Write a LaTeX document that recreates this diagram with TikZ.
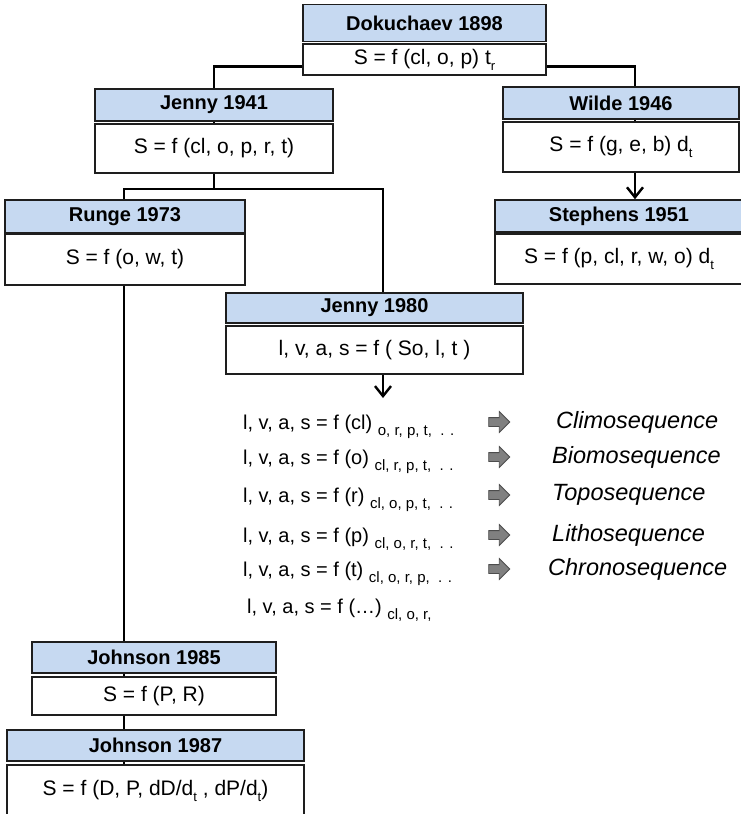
\documentclass[tikz,border=0pt]{standalone}
\usepackage{fontspec}
\setmainfont{Liberation Sans}
\usetikzlibrary{arrows.meta,shapes.arrows}

\definecolor{hdrblue}{HTML}{C6D9F1}
\definecolor{edgecol}{HTML}{1E1E1E}
\definecolor{blockgray}{HTML}{808080}

\newcommand\fsz[1]{\fontsize{#1}{#1}\selectfont}
% lowered small index, e.g. d_t
\newcommand\dsub[1]{\raisebox{-0.28em}{\fsz{13}#1}}
% lowered list of held-constant factors
\newcommand\heldlist[1]{\raisebox{-0.3em}{\fsz{15}#1}}

\pgfdeclarelayer{bg}
\pgfsetlayers{bg,main}

\begin{document}
\begin{tikzpicture}[x=1pt,y=-1pt,
  hdr/.style={draw=edgecol, line width=1.6pt, fill=hdrblue, inner sep=0pt,
              font=\bfseries\fsz{20}},
  bod/.style={draw=edgecol, line width=1.6pt, fill=white, inner sep=0pt,
              font=\fsz{21}},
  link/.style={draw=black, line width=2.6pt},
  arr/.style={draw=black, line width=2.4pt,
              -{Straight Barb[length=10pt,width=16pt]}},
  eqn/.style={anchor=base west, inner sep=0pt, font=\fsz{20}},
  seqlab/.style={anchor=west, inner sep=0pt, font=\itshape\fsz{23.5}},
  blockarrow/.style={single arrow, draw=black!70, line width=0.8pt,
                     fill=blockgray, inner xsep=0pt, inner ysep=4pt,
                     minimum height=21pt, single arrow head extend=6pt,
                     single arrow head indent=0pt},
]
\useasboundingbox (0,0) rectangle (741,814);

% ---- boxes: bold title bar over a formula panel ----
\node[hdr, minimum width=243pt, minimum height=37pt] (dokH) at (424.5,23)  {Dokuchaev 1898};
\node[bod, minimum width=243pt, minimum height=31pt] (dokB) at (424.5,59.5){S = f (cl, o, p) t\dsub{r}};

\node[hdr, minimum width=238pt, minimum height=32pt] (j41H) at (214,105)   {Jenny 1941};
\node[bod, minimum width=238pt, minimum height=49pt] (j41B) at (214,148.5) {S = f (cl, o, p, r, t)};

\node[hdr, minimum width=236pt, minimum height=32pt] (wilH) at (621,103)   {Wilde 1946};
\node[bod, minimum width=236pt, minimum height=50pt] (wilB) at (621,147)   {S = f (g, e, b) d\dsub{t}};

\node[hdr, minimum width=248pt, minimum height=32pt] (steH) at (619,216)   {Stephens 1951};
\node[bod, minimum width=248pt, minimum height=50pt] (steB) at (619,259)   {S = f (p, cl, r, w, o) d\dsub{t}};

\node[hdr, minimum width=240pt, minimum height=33pt] (runH) at (125,216.5) {Runge 1973};
\node[bod, minimum width=240pt, minimum height=51pt] (runB) at (125,259.5) {S = f (o, w, t)};

\node[hdr, minimum width=297pt, minimum height=30pt] (j80H) at (374.5,308) {Jenny 1980};
\node[bod, minimum width=297pt, minimum height=48pt] (j80B) at (374.5,350) {l, v, a, s = f ( So, l, t )};

\node[hdr, minimum width=244pt, minimum height=31pt] (j85H) at (154,657.5) {Johnson 1985};
\node[bod, minimum width=244pt, minimum height=38pt] (j85B) at (154,696)   {S = f (P, R)};

\node[hdr, minimum width=297pt, minimum height=31pt] (j87H) at (155.5,745.5) {Johnson 1987};
\node[bod, minimum width=297pt, minimum height=51pt] (j87B) at (155.5,790.5) {S = f (D, P, dD/d\dsub{t} , dP/d\dsub{t})};

% ---- state-factor sequences ----
\node[eqn] (e1) at (243,429.5) {l, v, a, s = f (cl) \heldlist{o, r, p, t,~~. .}};
\node[eqn] (e2) at (243,464.5) {l, v, a, s = f (o) \heldlist{cl, r, p, t,~~. .}};
\node[eqn] (e3) at (243,502.5) {l, v, a, s = f (r) \heldlist{cl, o, p, t,~~. .}};
\node[eqn] (e4) at (243,542.5) {l, v, a, s = f (p) \heldlist{cl, o, r, t,~~. .}};
\node[eqn] (e5) at (243,576.5) {l, v, a, s = f (t) \heldlist{cl, o, r, p,~~. .}};
\node[eqn] (e6) at (247,613.5) {l, v, a, s = f (…) \heldlist{cl, o, r,}};

\node[blockarrow] (a1) at (497,422) {};
\node[blockarrow] (a2) at (497,457) {};
\node[blockarrow] (a3) at (497,495) {};
\node[blockarrow] (a4) at (497,535) {};
\node[blockarrow] (a5) at (497,569) {};

\node[seqlab] (s1) at (556,422) {Climosequence};
\node[seqlab] (s2) at (552,457) {Biomosequence};
\node[seqlab] (s3) at (552,495) {Toposequence};
\node[seqlab] (s4) at (552,535) {Lithosequence};
\node[seqlab] (s5) at (548,569) {Chronosequence};

\coordinate (fork) at (214,189);
\coordinate (seqtop) at (383,398);

% ---- connectors, behind the boxes ----
\begin{pgfonlayer}{bg}
  \draw[link] ([yshift=-7pt]dokB.west) -| (j41H.north);
  \draw[link] ([yshift=-7pt]dokB.east) -| ([xshift=14pt]wilH.north);
  \draw[link] (j41H.center) -- (fork);
  \draw[link] ([xshift=-1pt]runH.center) |- (fork) -| ([xshift=8.5pt]j80H.north);
  \draw[link] ([xshift=-1pt]runH.center) -- ([xshift=-1pt]runH.center |- j87B.north);
  \draw[link] ([xshift=14pt]wilH.center) -- ([xshift=14pt]wilB.center);
\end{pgfonlayer}
\draw[arr] ([xshift=14pt]wilB.south) -- ([xshift=14pt]wilB.south |- steH.north);
\draw[arr] ([xshift=8.5pt]j80B.south) -- (seqtop);
\end{tikzpicture}
\end{document}
